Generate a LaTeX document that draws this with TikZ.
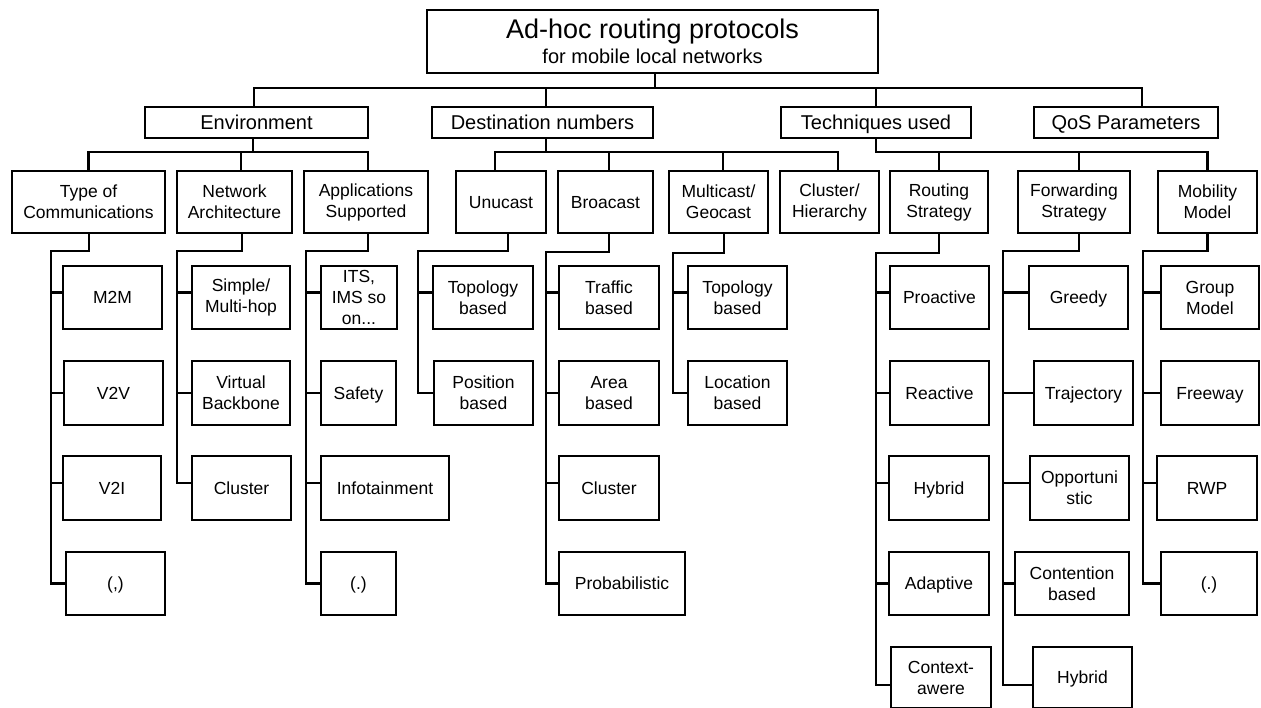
\documentclass[tikz,border=0pt]{standalone}
\usepackage{fontspec}
\setmainfont{Liberation Sans}
\newcommand\bx[7][box]{\node[#1,minimum width={(#4-#3)*1pt},minimum height={(#6-#5)*1pt}] (#2) at ({(#3+#4)/2},{(#5+#6)/2}) {#7};}
% stub from leaf #1 (shifted by #3 pt) to spine #2
\newcommand\stub[3]{\path ([yshift=#3pt]#1.west) coordinate (tmpc); \draw[conn] (tmpc) -- (tmpc -| #2);}
% whole spine: parent #1 (x shift #2), spine coordinate #3, last leaf #4 (y shift #5)
\newcommand\spine[5]{\path ([yshift=#5pt]#4.west) coordinate (tmpl); \draw[conn] ([xshift=#2pt]#1.south) |- (#3) |- (tmpl);}
\begin{document}
\begin{tikzpicture}[x=1pt,y=-1pt,
  box/.style={draw,line width=2.2pt,inner sep=0pt,align=center,font=\fontsize{17.5}{21}\selectfont},
  one/.style={box,text height=16pt,text depth=3.7pt},
  lone/.style={box,font=\fontsize{20}{24}\selectfont,text height=18.5pt,text depth=4.2pt},
  rootbox/.style={box,font=\fontsize{20}{25}\selectfont},
  conn/.style={line width=2.2pt}]
\useasboundingbox (0,0) rectangle (1261,708);
% root
\bx[rootbox]{root}{427}{878}{10}{73}{{\fontsize{27}{25}\selectfont Ad-hoc routing protocols}\\for mobile local networks}
% level 1
\bx[lone]{env}{145}{368}{107}{138}{Environment}
\bx[lone]{dest}{432}{653}{107}{138}{Destination numbers}
\bx[lone]{tech}{781}{971}{107}{138}{Techniques used}
\bx[lone]{qos}{1034}{1218}{107}{138}{QoS Parameters}
% level 2
\bx{type}{12}{165}{171}{233}{Type of\\Communications}
\bx{net}{177}{292}{171}{233}{Network\\Architecture}
\bx{apps}{304}{428}{171}{233}{Applications\\Supported}
\bx[one]{uni}{456}{546}{171}{233}{Unucast}
\bx[one]{bro}{558}{653}{171}{233}{Broacast}
\bx{mul}{669}{768}{171}{233}{Multicast/\\Geocast}
\bx{clu}{780}{879}{171}{233}{Cluster/\\Hierarchy}
\bx{rou}{890}{988}{171}{233}{Routing\\Strategy}
\bx{fwd}{1018}{1130}{171}{233}{Forwarding\\Strategy}
\bx{mob}{1158}{1257}{171}{233}{Mobility\\Model}
% leaves: type
\bx[one]{m2m}{63}{162}{266}{329}{M2M}
\bx[one]{v2v}{64}{163}{361}{425}{V2V}
\bx[one]{v2i}{63}{161}{456}{520}{V2I}
\bx[one]{tcom}{66}{165}{552}{615}{(,)}
% net
\bx{smh}{192}{290}{266}{329}{Simple/\\Multi-hop}
\bx{vbb}{192}{290}{361}{425}{Virtual\\Backbone}
\bx[one]{ncl}{192}{291}{456}{520}{Cluster}
% apps
\bx{its}{321}{397}{266}{329}{ITS,\\IMS so\\on...}
\bx[one]{saf}{321}{396}{361}{425}{Safety}
\bx[one]{inf}{321}{449}{456}{520}{Infotainment}
\bx[one]{adot}{321}{396}{552}{615}{(.)}
% unicast
\bx{utop}{433}{533}{266}{329}{Topology\\based}
\bx{upos}{434}{533}{361}{425}{Position\\based}
% broadcast
\bx{btra}{559}{659}{266}{329}{Traffic\\based}
\bx{bare}{559}{659}{361}{425}{Area\\based}
\bx[one]{bclu}{559}{659}{456}{520}{Cluster}
\bx[one]{bpro}{559}{685}{552}{615}{Probabilistic}
% multicast
\bx{mtop}{688}{787}{266}{329}{Topology\\based}
\bx{mloc}{688}{787}{361}{425}{Location\\based}
% routing
\bx[one]{rpro}{890}{989}{266}{329}{Proactive}
\bx[one]{rrea}{890}{989}{361}{425}{Reactive}
\bx[one]{rhyb}{889}{989}{456}{520}{Hybrid}
\bx[one]{rada}{889}{989}{552}{615}{Adaptive}
\bx{rcon}{891}{991}{647}{708}{Context-\\awere}
% forwarding
\bx[one]{fgre}{1029}{1128}{266}{329}{Greedy}
\bx[one]{ftra}{1034}{1133}{361}{425}{Trajectory}
\bx{fopp}{1030}{1129}{456}{520}{Opportuni\\stic}
\bx{fcon}{1015}{1129}{552}{615}{Contention\\based}
\bx[one]{fhyb}{1033}{1132}{647}{708}{Hybrid}
% mobility
\bx{mgro}{1161}{1259}{266}{329}{Group\\Model}
\bx[one]{mfre}{1161}{1259}{361}{425}{Freeway}
\bx[one]{mrwp}{1157}{1257}{456}{520}{RWP}
\bx[one]{mdot}{1161}{1257}{552}{615}{(.)}
% ---- connectors level 0 -> 1
\coordinate (b0) at (655,88);
\draw[conn] (b0 |- root.south) -- (b0);
\draw[conn] ([xshift=-2.5pt]env.north) |- (b0) -| ([xshift=16pt]qos.north);
\draw[conn] ([xshift=3.5pt]dest.north) -- ++(0,-19);
\draw[conn] (tech.north) -- ++(0,-19);
% ---- level 1 -> 2
\coordinate (b1) at (253,152);
\draw[conn] (b1 |- env.south) -- (b1);
\draw[conn] (type.north) |- (b1) -| ([xshift=2pt]apps.north);
\draw[conn] ([xshift=6.5pt]net.north) -- ++(0,-19);
\coordinate (b2) at (546,152);
\draw[conn] (b2 |- dest.south) -- (b2);
\draw[conn] ([xshift=-6pt]uni.north) |- (b2) -| ([xshift=8.5pt]clu.north);
\draw[conn] ([xshift=3.5pt]bro.north) -- ++(0,-19);
\draw[conn] ([xshift=4.5pt]mul.north) -- ++(0,-19);
\coordinate (b3) at (876,152);
\draw[conn] (tech.south) -- (b3) -| (mob.north);
\draw[conn] (rou.north) -- ++(0,-19);
\draw[conn] ([xshift=5pt]fwd.north) -- ++(0,-19);
% ---- level 2 -> leaves
\coordinate (sType) at (51,251);
\spine{type}{0.5}{sType}{tcom}{0}
\stub{m2m}{sType}{5}\stub{v2v}{sType}{0}\stub{v2i}{sType}{5}
\coordinate (sNet) at (177,251);
\spine{net}{7.5}{sNet}{ncl}{5}
\stub{smh}{sNet}{5}\stub{vbb}{sNet}{0}
\coordinate (sApps) at (306,251);
\spine{apps}{2}{sApps}{adot}{0}
\stub{its}{sApps}{5}\stub{saf}{sApps}{0}\stub{inf}{sApps}{5}
\coordinate (sUni) at (418,251);
\spine{uni}{7}{sUni}{upos}{0}
\stub{utop}{sUni}{5}
\coordinate (sBro) at (546,252);
\spine{bro}{3.5}{sBro}{bpro}{0}
\stub{btra}{sBro}{5}\stub{bare}{sBro}{0}\stub{bclu}{sBro}{5}
\coordinate (sMul) at (673,253);
\spine{mul}{5.5}{sMul}{mloc}{0}
\stub{mtop}{sMul}{5}
\coordinate (sRou) at (876,253);
\spine{rou}{0}{sRou}{rcon}{-7.5}
\stub{rpro}{sRou}{5}\stub{rrea}{sRou}{0}\stub{rhyb}{sRou}{5}\stub{rada}{sRou}{0}
\coordinate (sFwd) at (1003,251);
\spine{fwd}{5}{sFwd}{fhyb}{-7.5}
\stub{fgre}{sFwd}{5}\stub{ftra}{sFwd}{0}\stub{fopp}{sFwd}{5}\stub{fcon}{sFwd}{0}
\coordinate (sMob) at (1143,251);
\spine{mob}{0}{sMob}{mdot}{0}
\stub{mgro}{sMob}{5}\stub{mfre}{sMob}{0}\stub{mrwp}{sMob}{5}
\end{tikzpicture}
\end{document}
